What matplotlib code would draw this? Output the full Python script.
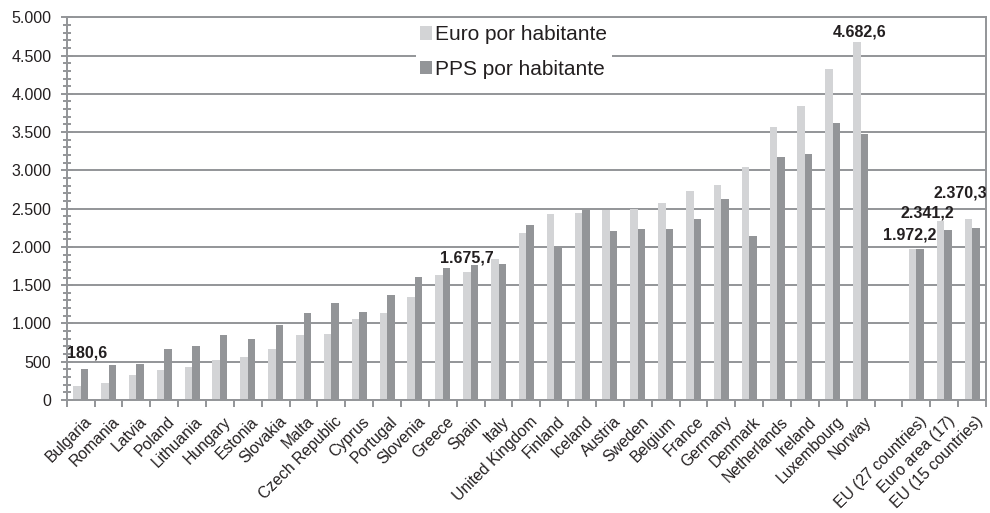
import numpy as np
import matplotlib
matplotlib.use("Agg")
import matplotlib.pyplot as plt
from matplotlib.ticker import MultipleLocator, FuncFormatter
from matplotlib.transforms import ScaledTranslation

countries = ["Bulgaria", "Romania", "Latvia", "Poland", "Lithuania", "Hungary",
             "Estonia", "Slovakia", "Malta", "Czech Republic", "Cyprus", "Portugal",
             "Slovenia", "Greece", "Spain", "Italy", "United Kingdom", "Finland",
             "Iceland", "Austria", "Sweden", "Belgium", "France", "Germany",
             "Denmark", "Netherlands", "Ireland", "Luxembourg", "Norway"]
euro_countries = [180.6, 226, 326, 391, 426, 517, 561, 670, 848, 866, 1061, 1139,
                  1351, 1628, 1675.7, 1840, 2182, 2424, 2442, 2476, 2494, 2570,
                  2735, 2803, 3046, 3568, 3847, 4325, 4682.6]
pps_countries = [404, 457, 470, 670, 704, 848, 800, 978, 1143, 1268, 1156, 1368,
                 1610, 1727, 1758, 1775, 2281, 2004, 2490, 2212, 2229, 2229,
                 2361, 2620, 2143, 3176, 3211, 3620, 3473]

aggregates = ["EU (27 countries)", "Euro area (17)", "EU (15 countries)"]
euro_aggregates = [1972.2, 2341.2, 2370.3]
pps_aggregates = [1972.2, 2219, 2241]

series_names = ["Euro por habitante", "PPS por habitante"]
labelled = ["Bulgaria", "Spain", "Norway", "EU (27 countries)", "Euro area (17)",
            "EU (15 countries)"]

plt.rcParams['font.family'] = ['Liberation Sans', 'DejaVu Sans']

TXT = "#231f20"
GRID = "#939598"
C_EURO = "#d3d4d6"
C_PPS = "#939598"

# positions: countries, one empty slot, aggregates
n_c = len(countries)
pos = np.concatenate([np.arange(n_c), np.arange(len(aggregates)) + n_c + 1])
names = countries + aggregates
euro = np.array(euro_countries + euro_aggregates)
pps = np.array(pps_countries + pps_aggregates)

fig = plt.figure(figsize=(9.9, 5.13), dpi=100)
ax = fig.add_axes([0.0674, 0.2203, 0.9286, 0.746])

w = 0.27
ax.bar(pos - w / 2, euro, width=w, color=C_EURO, label=series_names[0], zorder=2)
ax.bar(pos + w / 2, pps, width=w, color=C_PPS, label=series_names[1], zorder=2)

ax.set_xlim(-0.5, pos[-1] + 0.5)
ax.set_ylim(0, 5000)

ax.yaxis.set_major_locator(MultipleLocator(500))
ax.yaxis.set_minor_locator(MultipleLocator(100))
ax.yaxis.set_major_formatter(FuncFormatter(
    lambda v, p: f"{int(v):,}".replace(",", ".")))
ax.grid(axis='y', which='major', color=GRID, linewidth=1.4, zorder=0)
ax.set_axisbelow(True)

# x: labels at slot centers, ticks at slot boundaries
ax.set_xticks(pos)
ax.set_xticklabels(names, rotation=45, ha='right', va='top',
                   rotation_mode='anchor', fontsize=11.3, color=TXT)
ax.set_xticks(np.arange(-0.5, pos[-1] + 1, 1), minor=True)
ax.tick_params(axis='x', which='major', length=0, pad=10)
ax.tick_params(axis='x', which='minor', length=5, width=1.4, color=GRID,
               direction='out')
ax.tick_params(axis='y', which='major', length=8, width=1.4, color=GRID,
               direction='inout', labelsize=11.5, labelcolor=TXT, pad=7)
ax.tick_params(axis='y', which='minor', length=6, width=1.4, color=GRID,
               direction='inout')
shift = ScaledTranslation(3 / 100, 0, fig.dpi_scale_trans)
for lab in ax.get_xticklabels():
    lab.set_transform(lab.get_transform() + shift)

for s in ax.spines.values():
    s.set_color(GRID)
    s.set_linewidth(1.4)

def eur_fmt(v):
    return f"{v:,.1f}".replace(",", "X").replace(".", ",").replace("X", ".")

offsets = {"Bulgaria": (10, 33), "Spain": (0, 14), "Norway": (3, 10),
           "EU (27 countries)": (-3, 14), "Euro area (17)": (-13, 8),
           "EU (15 countries)": (-8, 26)}
for nm in labelled:
    i = names.index(nm)
    ax.annotate(eur_fmt(euro[i]), (pos[i] - w / 2, euro[i]),
                xytext=offsets[nm], textcoords='offset pixels',
                ha='center', va='center', fontsize=11.5, fontweight='bold',
                color=TXT, zorder=5)

leg = ax.legend(loc='upper left', bbox_to_anchor=(0.3796, 0.99), fontsize=15,
                frameon=True, facecolor='white', edgecolor='none', framealpha=1,
                handlelength=0.6, handleheight=0.6, handletextpad=0.15,
                labelspacing=0.74, borderpad=0.2, borderaxespad=0)
for t in leg.get_texts():
    t.set_color(TXT)

fig.savefig("out.png", dpi=100)
